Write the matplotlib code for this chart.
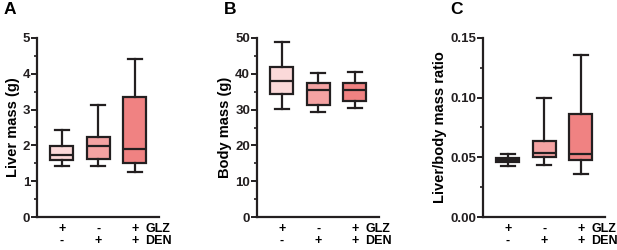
import matplotlib
matplotlib.use('Agg')
import matplotlib.pyplot as plt
from matplotlib.ticker import MultipleLocator, FormatStrFormatter

plt.rcParams['font.family'] = ['Liberation Sans', 'DejaVu Sans']
plt.rcParams['font.weight'] = 'bold'

# box stats per group: low whisker, Q1, median, Q3, high whisker
liver_lo = [1.43, 1.43, 1.26]
liver_q1 = [1.60, 1.61, 1.50]
liver_med = [1.73, 1.98, 1.90]
liver_q3 = [1.99, 2.24, 3.35]
liver_hi = [2.43, 3.14, 4.42]

body_lo = [30.1, 29.3, 30.4]
body_q1 = [34.3, 31.4, 32.3]
body_med = [37.9, 35.6, 35.6]
body_q3 = [42.0, 37.3, 37.4]
body_hi = [48.9, 40.2, 40.4]

ratio_lo = [0.0427, 0.0433, 0.0358]
ratio_q1 = [0.0463, 0.0505, 0.0480]
ratio_med = [0.0478, 0.0535, 0.0524]
ratio_q3 = [0.0494, 0.0638, 0.0862]
ratio_hi = [0.0527, 0.0995, 0.136]

glz = ['+', '-', '+']
den = ['-', '+', '+']
colors = ['#FBD9D9', '#F5A3A3', '#F08282']
edge = '#231F20'

panels = [
    ('A', 'Liver mass (g)', (liver_lo, liver_q1, liver_med, liver_q3, liver_hi), 5, 1, 0.5, '%d', 37),
    ('B', 'Body mass (g)', (body_lo, body_q1, body_med, body_q3, body_hi), 50, 10, 5, '%d', 257),
    ('C', 'Liver/body mass ratio', (ratio_lo, ratio_q1, ratio_med, ratio_q3, ratio_hi), 0.15, 0.05, 0.025, '%.2f', 483),
]

W, H = 617, 250
fig = plt.figure(figsize=(W / 100, H / 100), dpi=100)

for letter, ylab, (lo, q1, med, q3, hi), ymax, major, minor, fmt, left in panels:
    ax = fig.add_axes([left / W, (H - 217) / H, 122 / W, 179 / H])
    stats = []
    for i in range(3):
        stats.append(dict(whislo=lo[i], q1=q1[i], med=med[i], q3=q3[i], whishi=hi[i], fliers=[]))
    bp = ax.bxp(stats, positions=[1, 2, 3], widths=0.63, patch_artist=True, showfliers=False,
                capwidths=0.38,
                boxprops=dict(linewidth=1.6, edgecolor=edge),
                medianprops=dict(color=edge, linewidth=1.6),
                whiskerprops=dict(color=edge, linewidth=1.6),
                capprops=dict(color=edge, linewidth=1.6))
    for patch, c in zip(bp['boxes'], colors):
        patch.set_facecolor(c)

    ax.set_xlim(0.32, 3.66)
    ax.set_ylim(0, ymax)
    ax.yaxis.set_major_locator(MultipleLocator(major))
    ax.yaxis.set_minor_locator(MultipleLocator(minor))
    ax.yaxis.set_major_formatter(FormatStrFormatter(fmt))
    for s in ['top', 'right']:
        ax.spines[s].set_visible(False)
    for s in ['left', 'bottom']:
        ax.spines[s].set_linewidth(1.6)
        ax.spines[s].set_color(edge)
    ax.tick_params(axis='y', which='major', length=4, width=1.4, labelsize=9.5, pad=1, colors=edge)
    ax.tick_params(axis='y', which='minor', length=2.5, width=1.2, colors=edge)
    ax.tick_params(axis='x', length=0, labelsize=9, pad=4)
    ax.set_xticks([1, 2, 3])
    ax.set_xticklabels([g + '\n' + d for g, d in zip(glz, den)], fontweight='bold', linespacing=1.0)
    ax.annotate('GLZ\nDEN', xy=(3.29, 0), xycoords=('data', 'axes fraction'),
                xytext=(0, -4), textcoords='offset points', ha='left', va='top',
                fontsize=9, fontweight='bold', linespacing=1.0, annotation_clip=False)
    ax.set_ylabel(ylab, fontsize=10.5, fontweight='bold', labelpad=2)
    fig.text((left - 33) / W, 1 - 9 / H, letter, fontsize=12.5, fontweight='bold', va='center', ha='left')

fig.savefig('out.png', dpi=100)
